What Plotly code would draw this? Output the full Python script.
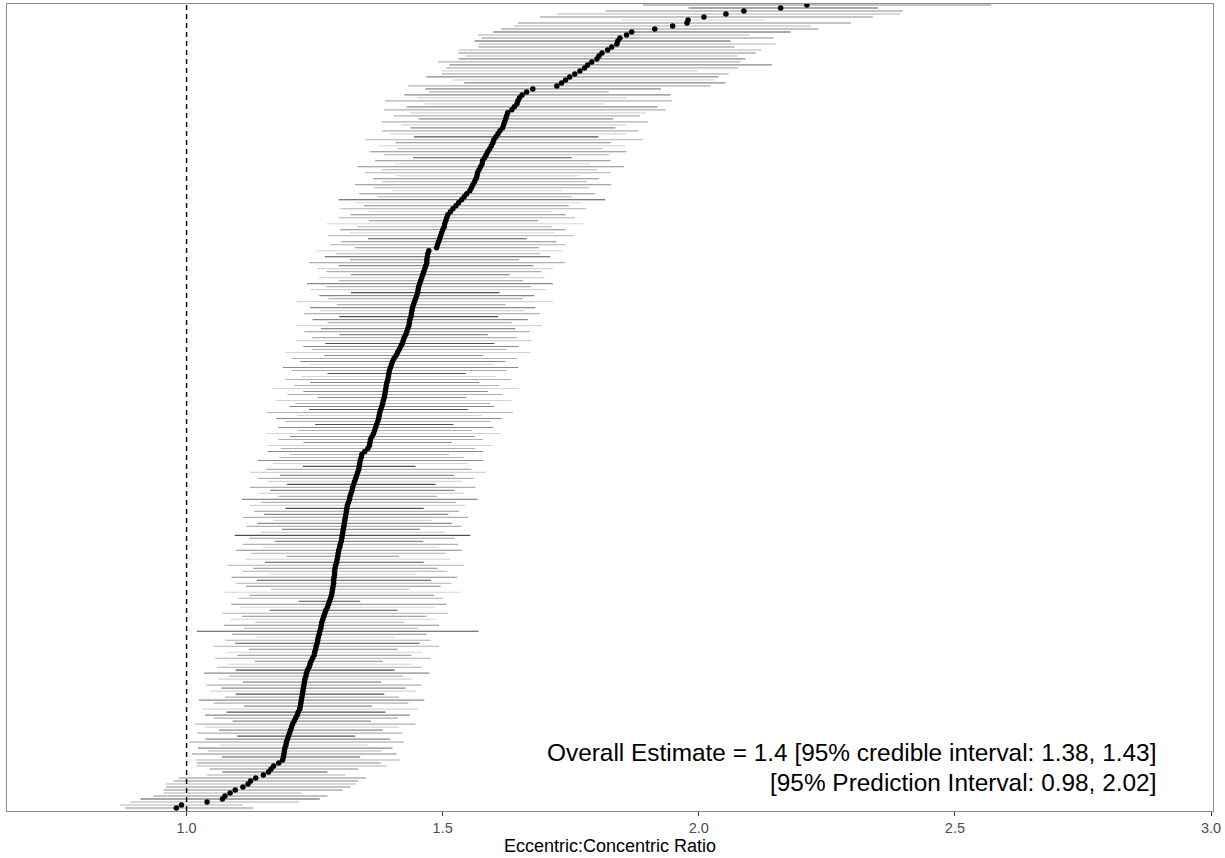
import plotly.graph_objects as go

# Point estimates (sorted, bottom row first)
estimate = [
    0.98, 0.99, 1.04, 1.07, 1.075, 1.085, 1.095, 1.11, 1.12, 1.125,
    1.135, 1.15, 1.16, 1.165, 1.17, 1.18, 1.1875, 1.189, 1.19, 1.191,
    1.192, 1.194, 1.195, 1.197, 1.199, 1.201, 1.203, 1.205, 1.207, 1.21,
    1.213, 1.216, 1.218, 1.221, 1.222, 1.223, 1.224, 1.225, 1.226, 1.227,
    1.228, 1.229, 1.23, 1.231, 1.233, 1.234, 1.236, 1.239, 1.241, 1.243,
    1.246, 1.249, 1.25, 1.252, 1.253, 1.255, 1.256, 1.257, 1.259, 1.26,
    1.262, 1.263, 1.264, 1.266, 1.268, 1.27, 1.272, 1.275, 1.277, 1.279,
    1.281, 1.283, 1.284, 1.285, 1.286, 1.287, 1.287, 1.288, 1.289, 1.289,
    1.29, 1.291, 1.293, 1.294, 1.295, 1.296, 1.297, 1.299, 1.30, 1.302,
    1.303, 1.304, 1.305, 1.306, 1.307, 1.308, 1.309, 1.31, 1.311, 1.312,
    1.313, 1.314, 1.316, 1.318, 1.319, 1.321, 1.323, 1.324, 1.326, 1.328,
    1.33, 1.332, 1.334, 1.336, 1.337, 1.338, 1.339, 1.341, 1.342, 1.348,
    1.354, 1.357, 1.358, 1.359, 1.362, 1.365, 1.367, 1.369, 1.371, 1.373,
    1.375, 1.376, 1.377, 1.379, 1.381, 1.383, 1.384, 1.386, 1.387, 1.388,
    1.389, 1.39, 1.391, 1.393, 1.394, 1.395, 1.396, 1.398, 1.40, 1.402,
    1.405, 1.409, 1.412, 1.415, 1.418, 1.421, 1.423, 1.425, 1.428, 1.43,
    1.432, 1.434, 1.435, 1.436, 1.438, 1.439, 1.44, 1.441, 1.443, 1.445,
    1.447, 1.449, 1.451, 1.452, 1.453, 1.455, 1.457, 1.459, 1.461, 1.463,
    1.465, 1.467, 1.469, 1.469, 1.47, 1.471, 1.473, 1.488, 1.49, 1.492,
    1.494, 1.496, 1.498, 1.50, 1.503, 1.504, 1.506, 1.508, 1.51, 1.515,
    1.52, 1.526, 1.531, 1.537, 1.542, 1.547, 1.553, 1.556, 1.559, 1.562,
    1.565, 1.567, 1.568, 1.571, 1.574, 1.577, 1.578, 1.582, 1.585, 1.588,
    1.592, 1.595, 1.598, 1.60, 1.604, 1.608, 1.612, 1.617, 1.619, 1.621,
    1.623, 1.625, 1.627, 1.635, 1.64, 1.645, 1.647, 1.65, 1.655, 1.664,
    1.676,
    1.723, 1.732, 1.740, 1.748, 1.758, 1.768, 1.777, 1.783, 1.791, 1.801,
    1.805, 1.811, 1.822, 1.830, 1.840, 1.842, 1.846, 1.859, 1.869, 1.914,
    1.949, 1.977, 1.979, 2.010, 2.053, 2.088, 2.160, 2.211,
]

# Distance from estimate to lower interval bound
err_minus = [
    0.10, 0.12, 0.15, 0.16, 0.14, 0.13, 0.14, 0.15, 0.16, 0.15,
    0.15, 0.11, 0.09, 0.12, 0.15, 0.16, 0.17, 0.12, 0.18, 0.15,
    0.17, 0.13, 0.19, 0.16, 0.10, 0.18, 0.14, 0.17, 0.19, 0.12,
    0.16, 0.18, 0.14, 0.19, 0.11, 0.17, 0.20, 0.15, 0.13, 0.18,
    0.16, 0.19, 0.12, 0.17, 0.15, 0.20, 0.14, 0.18, 0.16, 0.11,
    0.19, 0.15, 0.17, 0.13, 0.20, 0.16, 0.18, 0.12, 0.17, 0.24,
    0.15, 0.19, 0.13, 0.18, 0.16, 0.20, 0.11, 0.17, 0.19, 0.06,
    0.18, 0.16, 0.21, 0.12, 0.17, 0.19, 0.15, 0.20, 0.13, 0.18,
    0.16, 0.21, 0.14, 0.18, 0.10, 0.17, 0.20, 0.15, 0.19, 0.13,
    0.18, 0.21, 0.16, 0.12, 0.19, 0.17, 0.14, 0.20, 0.16, 0.18,
    0.12, 0.19, 0.17, 0.21, 0.14, 0.18, 0.16, 0.20, 0.13, 0.17,
    0.19, 0.15, 0.21, 0.18, 0.11, 0.17, 0.20, 0.16, 0.14, 0.19,
    0.17, 0.20, 0.13, 0.18, 0.16, 0.21, 0.15, 0.19, 0.12, 0.18,
    0.20, 0.16, 0.22, 0.14, 0.18, 0.17, 0.21, 0.13, 0.19, 0.16,
    0.22, 0.18, 0.15, 0.20, 0.17, 0.12, 0.19, 0.21, 0.16, 0.18,
    0.20, 0.14, 0.22, 0.17, 0.19, 0.15, 0.21, 0.18, 0.13, 0.20,
    0.17, 0.22, 0.16, 0.19, 0.14, 0.21, 0.18, 0.20, 0.15, 0.23,
    0.17, 0.19, 0.13, 0.21, 0.18, 0.22, 0.16, 0.20, 0.14, 0.19,
    0.21, 0.17, 0.23, 0.15, 0.20, 0.18, 0.22, 0.16, 0.21, 0.19,
    0.14, 0.22, 0.18, 0.20, 0.17, 0.23, 0.15, 0.21, 0.19, 0.16,
    0.22, 0.18, 0.20, 0.24, 0.17, 0.21, 0.15, 0.19, 0.23, 0.18,
    0.20, 0.16, 0.22, 0.19, 0.24, 0.17, 0.21, 0.14, 0.20, 0.23,
    0.18, 0.22, 0.19, 0.25, 0.16, 0.21, 0.23, 0.18, 0.20, 0.24,
    0.17, 0.22, 0.19, 0.25, 0.21, 0.18, 0.26, 0.20, 0.23, 0.19,
    0.21,
    0.29, 0.19, 0.22, 0.28, 0.26, 0.27, 0.27, 0.27, 0.30, 0.27,
    0.26, 0.28, 0.29, 0.26, 0.27, 0.28, 0.27, 0.29, 0.27, 0.30,
    0.31, 0.33, 0.13, 0.32, 0.33, 0.27, 0.18, 0.32,
]

# Distance from estimate to upper interval bound
err_plus = [
    0.15, 0.12, 0.18, 0.19, 0.20, 0.14, 0.21, 0.21, 0.21, 0.21,
    0.215, 0.16, 0.115, 0.17, 0.22, 0.20, 0.23, 0.15, 0.22, 0.19,
    0.21, 0.16, 0.23, 0.20, 0.13, 0.22, 0.18, 0.21, 0.24, 0.15,
    0.20, 0.22, 0.17, 0.23, 0.14, 0.21, 0.24, 0.19, 0.16, 0.22,
    0.20, 0.23, 0.15, 0.21, 0.19, 0.24, 0.17, 0.22, 0.20, 0.14,
    0.23, 0.19, 0.21, 0.16, 0.24, 0.20, 0.22, 0.15, 0.21, 0.31,
    0.19, 0.23, 0.16, 0.22, 0.20, 0.24, 0.14, 0.21, 0.23, 0.06,
    0.22, 0.20, 0.25, 0.15, 0.21, 0.23, 0.19, 0.24, 0.16, 0.22,
    0.20, 0.25, 0.17, 0.22, 0.12, 0.21, 0.24, 0.19, 0.23, 0.16,
    0.22, 0.25, 0.20, 0.15, 0.23, 0.21, 0.17, 0.24, 0.20, 0.22,
    0.15, 0.23, 0.21, 0.25, 0.17, 0.22, 0.20, 0.24, 0.16, 0.21,
    0.23, 0.19, 0.25, 0.22, 0.11, 0.21, 0.24, 0.20, 0.17, 0.23,
    0.21, 0.24, 0.16, 0.22, 0.20, 0.25, 0.19, 0.23, 0.15, 0.22,
    0.24, 0.20, 0.26, 0.17, 0.22, 0.21, 0.25, 0.16, 0.23, 0.20,
    0.26, 0.22, 0.18, 0.24, 0.21, 0.15, 0.23, 0.25, 0.20, 0.22,
    0.24, 0.17, 0.26, 0.21, 0.23, 0.18, 0.25, 0.22, 0.16, 0.24,
    0.21, 0.26, 0.20, 0.23, 0.17, 0.25, 0.22, 0.24, 0.18, 0.27,
    0.21, 0.23, 0.16, 0.25, 0.22, 0.26, 0.20, 0.24, 0.17, 0.23,
    0.25, 0.21, 0.27, 0.18, 0.24, 0.22, 0.26, 0.20, 0.25, 0.23,
    0.17, 0.26, 0.22, 0.24, 0.21, 0.27, 0.18, 0.25, 0.23, 0.20,
    0.26, 0.22, 0.24, 0.28, 0.21, 0.25, 0.18, 0.23, 0.27, 0.22,
    0.24, 0.20, 0.26, 0.23, 0.28, 0.21, 0.25, 0.17, 0.24, 0.27,
    0.22, 0.26, 0.23, 0.29, 0.20, 0.25, 0.27, 0.22, 0.24, 0.28,
    0.21, 0.26, 0.27, 0.30, 0.28, 0.17, 0.30, 0.21, 0.29, 0.16,
    0.25,
    0.30, 0.32, 0.29, 0.29, 0.30, 0.23, 0.30, 0.36, 0.29, 0.29,
    0.27, 0.30, 0.30, 0.24, 0.31, 0.22, 0.30, 0.24, 0.31, 0.32,
    0.27, 0.32, 0.15, 0.33, 0.34, 0.31, 0.19, 0.36,
]

# Grey level of each interval line (1 = lightest, 4 = darkest)
shade = [
    3, 2, 2, 4, 3, 2, 3, 3, 2, 3,
    3, 2, 4, 3, 2, 3, 2, 4, 3, 2,
    3, 1, 2, 3, 4, 2, 3, 1, 2, 3,
    2, 3, 4, 1, 3, 2, 3, 2, 4, 1,
    3, 2, 3, 1, 2, 3, 4, 2, 1, 3,
    2, 3, 1, 3, 2, 4, 2, 1, 3, 4,
    2, 3, 2, 1, 3, 2, 4, 1, 3, 4,
    2, 3, 1, 2, 3, 2, 4, 3, 1, 2,
    3, 2, 4, 1, 3, 2, 3, 1, 2, 3,
    2, 4, 1, 3, 2, 3, 1, 2, 3, 2,
    4, 1, 2, 3, 2, 1, 3, 2, 4, 1,
    2, 3, 1, 2, 4, 1, 3, 2, 2, 3,
    2, 1, 3, 2, 3, 1, 2, 3, 4, 2,
    3, 1, 2, 4, 3, 2, 1, 3, 2, 3,
    1, 2, 3, 2, 1, 4, 2, 3, 1, 3,
    2, 3, 1, 2, 3, 4, 1, 2, 3, 2,
    3, 1, 2, 3, 4, 2, 1, 3, 2, 1,
    2, 3, 4, 1, 2, 3, 2, 1, 3, 2,
    1, 3, 2, 3, 4, 2, 1, 3, 2, 3,
    4, 2, 1, 3, 2, 1, 3, 2, 3, 1,
    2, 3, 1, 4, 2, 3, 1, 2, 3, 2,
    3, 1, 2, 2, 3, 1, 3, 4, 2, 3,
    2, 1, 3, 2, 4, 1, 2, 3, 1, 2,
    3, 2, 1, 2, 3, 1, 2, 1, 3, 2,
    3,
    2, 3, 1, 3, 2, 1, 2, 3, 2, 3,
    2, 3, 2, 3, 2, 4, 3, 2, 4, 3,
    2, 3, 1, 3, 2, 3, 4, 3,
]

x_ticks = [1.0, 1.5, 2.0, 2.5, 3.0]
x_tick_labels = ["1.0", "1.5", "2.0", "2.5", "3.0"]
x_title = "Eccentric:Concentric Ratio"
null_value = 1.0
note_line1 = "Overall Estimate = 1.4 [95% credible interval: 1.38, 1.43]"
note_line2 = "[95% Prediction Interval: 0.98, 2.02]"

grey_colors = {1: "#d4d4d4", 2: "#b0b0b0", 3: "#8a8a8a", 4: "#505050"}
FONT = "Liberation Sans, Arial, sans-serif"

rows = list(range(len(estimate)))
fig = go.Figure()

for level in [1, 2, 3, 4]:
    xs, ys = [], []
    for i in rows:
        if shade[i] == level:
            xs += [estimate[i] - err_minus[i], estimate[i] + err_plus[i], None]
            ys += [i, i, None]
    fig.add_trace(go.Scatter(
        x=xs, y=ys, mode="lines",
        line=dict(color=grey_colors[level], width=1.1),
        hoverinfo="skip", showlegend=False,
    ))

fig.add_trace(go.Scatter(
    x=estimate, y=rows, mode="markers",
    marker=dict(color="black", size=5.5, line=dict(width=0)),
    showlegend=False,
))

fig.add_vline(x=null_value, line=dict(color="black", width=1.4, dash="5px,4px"))

fig.add_annotation(
    text=note_line1, xref="x", yref="paper", x=2.8965, y=0.0731,
    xanchor="right", yanchor="middle", showarrow=False,
    font=dict(family=FONT, size=24.4, color="black"),
)
fig.add_annotation(
    text=note_line2, xref="x", yref="paper", x=2.8965, y=0.0347,
    xanchor="right", yanchor="middle", showarrow=False,
    font=dict(family=FONT, size=24.4, color="black"),
)

n_rows = len(estimate)
fig.update_layout(
    width=1225, height=858,
    margin=dict(l=7, r=12, t=4, b=47),
    paper_bgcolor="white", plot_bgcolor="white",
    font=dict(family=FONT),
    showlegend=False,
)
fig.update_xaxes(
    range=[0.6494, 3.0039],
    tickvals=x_ticks, ticktext=x_tick_labels,
    ticks="outside", ticklen=4, tickcolor="#333333", tickwidth=1,
    tickfont=dict(size=14.5, color="#4d4d4d"),
    showgrid=False, zeroline=False,
    showline=True, mirror=True, linecolor="#8c8c8c", linewidth=1,
    title=dict(text=x_title, font=dict(size=18, color="black"), standoff=3),
)
fig.update_yaxes(
    range=[-1.0, n_rows - 1 + 0.33],
    showticklabels=False, ticks="",
    showgrid=False, zeroline=False,
    showline=True, mirror=True, linecolor="#8c8c8c", linewidth=1,
)

fig.write_html(
    "out.html",
    config={"displayModeBar": False},
    post_script="document.body.style.margin='0px';",
)
